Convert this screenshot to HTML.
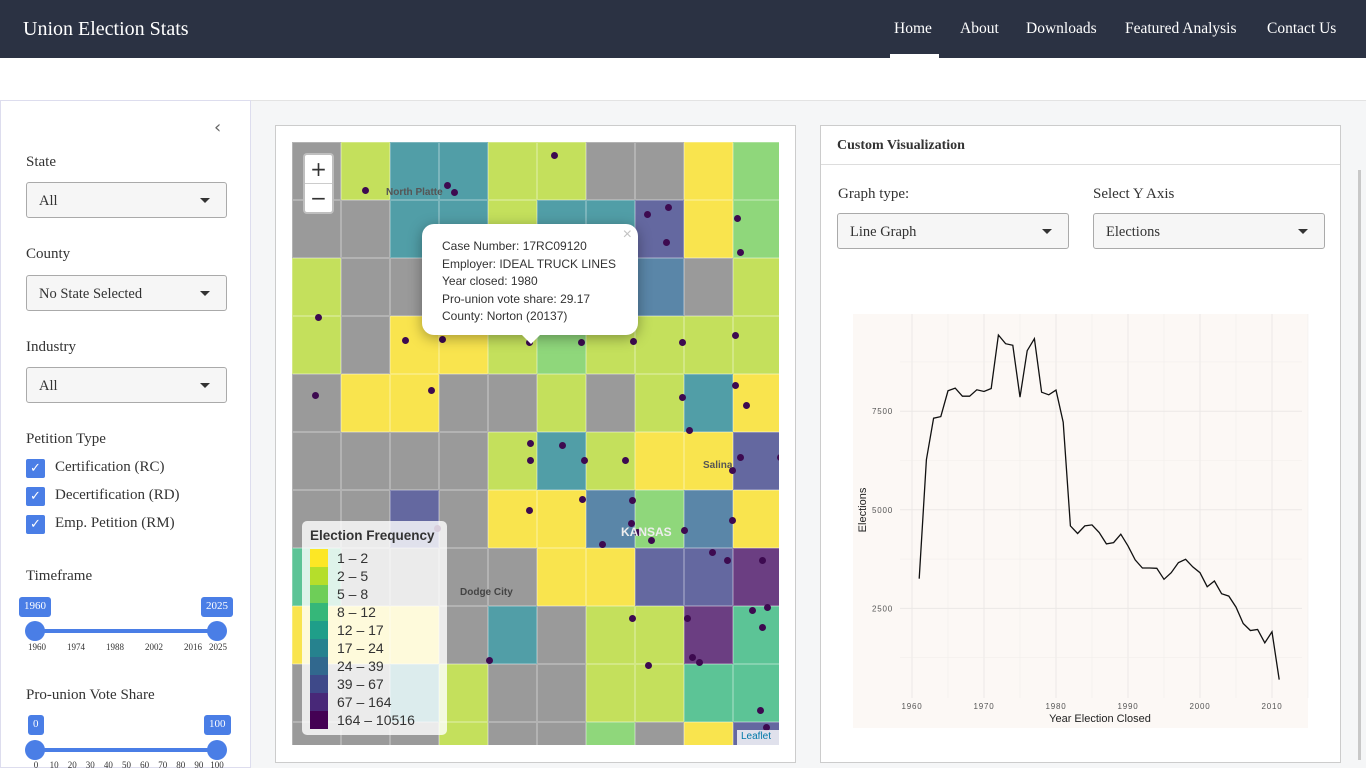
<!DOCTYPE html>
<html><head><meta charset="utf-8">
<style>
*{box-sizing:border-box;margin:0;padding:0}
body{width:1366px;height:768px;overflow:hidden;background:#fff;font-family:"Liberation Serif",serif;color:#333;position:relative}
.nav{position:absolute;left:0;top:0;width:1366px;height:58px;background:#2b3243}
.brand{position:absolute;left:23px;top:18px;color:#fff;font-size:20px}
.nl{position:absolute;top:20px;color:#fff;font-size:15.5px}
.side{position:absolute;left:0;top:100px;width:251px;height:668px;border:1px solid #dde;background:#fff}
.main{position:absolute;left:251px;top:100px;width:1115px;height:668px;background:#f5f6f7;border-top:1px solid #e3e3e3}
.lbl{position:absolute;left:25px;font-size:15px;color:#333}
.sel{position:absolute;left:25px;width:201px;height:36px;border:1px solid #aaa;border-radius:3px;background:#f6f6f6;font-size:14.5px;padding:10px 12px}
.car{position:absolute;right:16px;top:15px;width:0;height:0;border-left:5px solid transparent;border-right:5px solid transparent;border-top:5px solid #333}
.cb{position:absolute;left:25px;width:19px;height:19px;background:#4a7ee6;border-radius:2px;color:#fff;font-size:13px;text-align:center;line-height:19px;font-family:"DejaVu Sans",sans-serif}
.cbl{position:absolute;left:54px;font-size:15px}
.badge{position:absolute;height:20px;background:#4a7ee6;color:#fff;font-size:11px;border-radius:3px;padding:3px 5px}
.track{position:absolute;left:34px;width:182px;height:4px;background:#4a7ee6}
.knob{position:absolute;width:20px;height:20px;border-radius:50%;background:#4a7ee6}
.tick{position:absolute;font-size:9px;color:#333;transform:translateX(-50%)}
.panel{position:absolute;background:#fff;border:1px solid #ccc}
.map{position:absolute;left:292px;top:142px;width:487px;height:603px;overflow:hidden;background:#9a9a9a;font-family:"Liberation Sans",sans-serif}
.cell{position:absolute;border:1px solid rgba(255,255,255,0.25)}
.dot{position:absolute;width:7px;height:7px;border-radius:50%;background:#3d0a50}
</style></head><body>
<div class="nav">
<div class="brand">Union Election Stats</div>
<div class="nl" style="left:894px">Home</div>
<div style="position:absolute;left:890px;top:54px;width:49px;height:4px;background:#fff"></div>
<div class="nl" style="left:960px">About</div>
<div class="nl" style="left:1026px">Downloads</div>
<div class="nl" style="left:1125px">Featured Analysis</div>
<div class="nl" style="left:1267px">Contact Us</div>
</div>

<div class="side">
<div style="position:absolute;left:213px;top:16px;font-size:18px;color:#666;font-family:'DejaVu Sans',sans-serif">‹</div>
<div class="lbl" style="top:53px">State</div>
<div class="sel" style="top:81px">All<div class="car"></div></div>
<div class="lbl" style="top:145px">County</div>
<div class="sel" style="top:174px">No State Selected<div class="car"></div></div>
<div class="lbl" style="top:238px">Industry</div>
<div class="sel" style="top:266px">All<div class="car"></div></div>
<div class="lbl" style="top:330px">Petition Type</div>
<div class="cb" style="top:358px">✓</div><div class="cbl" style="top:358px">Certification (RC)</div>
<div class="cb" style="top:386px">✓</div><div class="cbl" style="top:386px">Decertification (RD)</div>
<div class="cb" style="top:414px">✓</div><div class="cbl" style="top:414px">Emp. Petition (RM)</div>
<div class="lbl" style="top:467px">Timeframe</div>
<div class="badge" style="left:18px;top:496px">1960</div>
<div class="badge" style="left:200px;top:496px">2025</div>
<div class="track" style="top:528px"></div>
<div class="knob" style="left:24px;top:520px"></div>
<div class="knob" style="left:206px;top:520px"></div>
<div class="tick" style="left:36px;top:541px">1960</div><div class="tick" style="left:75px;top:541px">1974</div><div class="tick" style="left:114px;top:541px">1988</div><div class="tick" style="left:153px;top:541px">2002</div><div class="tick" style="left:192px;top:541px">2016</div><div class="tick" style="left:217px;top:541px">2025</div>
<div class="lbl" style="top:586px">Pro-union Vote Share</div>
<div class="badge" style="left:27px;top:614px">0</div>
<div class="badge" style="left:203px;top:614px">100</div>
<div class="track" style="top:647px"></div>
<div class="knob" style="left:24px;top:639px"></div>
<div class="knob" style="left:206px;top:639px"></div>
<div id="vsticks"></div>
</div>
<script>
const vsTicks = [0,10,20,30,40,50,60,70,80,90,100];
const vs = document.getElementById('vsticks');
vsTicks.forEach(t => {
  const d = document.createElement('div');
  d.className = 'tick';
  d.style.left = (35 + t * 1.81) + 'px';
  d.style.top = '659px';
  d.textContent = t;
  
  
  vs.appendChild(d);
});
</script>

<div class="main"></div>
<div class="panel" style="left:275px;top:125px;width:521px;height:638px"></div>
<div class="map" id="map"></div>

<div class="panel" style="left:820px;top:125px;width:521px;height:638px">
<div style="position:absolute;left:0;top:0;width:519px;height:39px;border-bottom:1px solid #ddd;padding:12px 16px;font-weight:bold;font-size:14px">Custom Visualization</div>
<div style="position:absolute;left:17px;top:60px;font-size:15px">Graph type:</div>
<div class="sel" style="left:16px;top:87px;width:232px">Line Graph<div class="car"></div></div>
<div style="position:absolute;left:272px;top:60px;font-size:15px">Select Y Axis</div>
<div class="sel" style="left:272px;top:87px;width:232px">Elections<div class="car"></div></div>
</div>
<div style="position:absolute;left:1358px;top:170px;width:3px;height:590px;background:#c8c8c8"></div>

<svg id="chart" style="position:absolute;left:0;top:0" width="1366" height="768"></svg>

<script>
const years = [];
for (let y = 1961; y <= 2011; y++) years.push(y);
const elections = [3254,6271,7322,7364,8017,8085,7881,7881,8042,8000,8076,9432,9212,9170,7856,9034,9339,7983,7915,8034,7220,4593,4398,4593,4618,4424,4135,4169,4381,4085,3729,3525,3525,3517,3237,3406,3661,3746,3551,3406,3051,3195,2873,2813,2534,2118,1940,1966,1627,1907,695];
const xTicks = [1960,1970,1980,1990,2000,2010];
const yTicks = [2500,5000,7500];
const yMinor = [1250,3750,6250,8750];

const NS = "http://www.w3.org/2000/svg";
const svg = document.getElementById('chart');
const X = v => 912 + (v - 1960) * 7.2;
const Y = v => 707 - v * 0.03944;
function mk(t, a) { const e = document.createElementNS(NS, t); for (const k in a) e.setAttribute(k, a[k]); svg.appendChild(e); return e; }
const bg = mk('rect', {x:853, y:314, width:455, height:414, fill:'#fcf8f5'});


for (const t of xTicks) {
  const l = mk('line', {x1:X(t), x2:X(t), y1:314, y2:698, stroke:'#ebe8e6', 'stroke-width':1});
  
  
  const m = mk('line', {x1:X(t+5), x2:X(t+5), y1:314, y2:698, stroke:'#f1eeec', 'stroke-width':0.6});
  
  
  const tx = mk('text', {x:X(t), y:709, 'font-size':8, fill:'#555', 'text-anchor':'middle', 'font-family':'Liberation Sans, sans-serif', 'letter-spacing':'0.8'});
  tx.textContent = t;
  
  
}
for (const t of yTicks) {
  const l = mk('line', {x1:900, x2:1302, y1:Y(t), y2:Y(t), stroke:'#ebe8e6', 'stroke-width':1});
  
  
  const tx = mk('text', {x:893, y:Y(t)+3, 'font-size':8, fill:'#555', 'text-anchor':'end', 'font-family':'Liberation Sans, sans-serif', 'letter-spacing':'0.8'});
  tx.textContent = t;
  
  
}
for (const t of yMinor) {
  const l = mk('line', {x1:900, x2:1302, y1:Y(t), y2:Y(t), stroke:'#f1eeec', 'stroke-width':0.6});
  
  
}
const pts = years.map((yr, i) => X(yr).toFixed(1) + ',' + Y(elections[i]).toFixed(1)).join(' ');
const line = mk('polyline', {points:pts, fill:'none', stroke:'#111', 'stroke-width':1.3});


const xt = mk('text', {x:1100, y:722, 'font-size':11, fill:'#222', 'text-anchor':'middle', 'font-family':'Liberation Sans, sans-serif'});
xt.textContent = 'Year Election Closed';


const yt = mk('text', {x:0, y:0, 'font-size':11, fill:'#222', 'text-anchor':'middle', 'font-family':'Liberation Sans, sans-serif', transform:'translate(866,510) rotate(-90)'});
yt.textContent = 'Elections';



// Map (decorative county choropleth)
const pal = {G:'#9a9a9a', Y:'#f9e44e', L:'#c4e05c', N:'#8fd77b', T:'#5cc496', Q:'#519ea7', B:'#5a86a8', I:'#6468a0', P:'#6b3e82'};
const rows = ["GLQQLLGGYN","GGQQLQQIYN","LGGLLLQBGL","LGYYLNLLLL","GYYGGLGLQY","GGGGLQLYYI","GGIGYYBNBY","TGGGGYYIIP","YYYGQGLLPT","GGQLGGLLTT","GGGLGGNGYI"];
const map = document.getElementById('map');
rows.forEach((r, ri) => { [...r].forEach((c, ci) => {
  const d = document.createElement('div');
  d.className = 'cell';
  d.style.cssText = `left:${ci*49}px;top:${ri*58}px;width:49px;height:58px;background:${pal[c]}`;
  
  
  map.appendChild(d);
});});
const dots = [[262,13],[73,48],[162,50],[155,43],[355,72],[376,65],[374,100],[445,76],[448,110],[26,175],[113,198],[150,197],[237,200],[289,200],[341,199],[390,200],[443,193],[443,243],[454,263],[23,253],[139,248],[390,255],[397,288],[238,301],[238,318],[270,303],[292,318],[333,318],[448,315],[488,315],[440,328],[237,368],[290,357],[340,358],[345,390],[392,388],[440,378],[145,386],[339,381],[359,398],[310,402],[420,410],[470,418],[435,418],[460,468],[475,465],[470,485],[395,476],[340,476],[400,515],[197,518],[356,523],[407,520],[468,568],[474,585]];
dots.forEach(([x, y]) => {
  const d = document.createElement('div');
  d.className = 'dot';
  d.style.left = (x-3) + 'px'; d.style.top = (y-3) + 'px';
  
  
  map.appendChild(d);
});
</script>

<div style="position:absolute;left:303px;top:153px;width:31px;height:61px;background:#fff;border:2px solid rgba(0,0,0,0.25);border-radius:4px;font-family:'DejaVu Sans',sans-serif">
<div style="height:29px;text-align:center;font-size:20px;line-height:28px;border-bottom:1px solid #ccc">+</div>
<div style="text-align:center;font-size:20px;line-height:28px">−</div>
</div>
<div style="position:absolute;left:386px;top:187px;font-size:10px;font-weight:bold;color:#555;font-family:'Liberation Sans',sans-serif">North Platte</div>
<div style="position:absolute;left:703px;top:460px;font-size:10px;font-weight:bold;color:#555;font-family:'Liberation Sans',sans-serif">Salina</div>
<div style="position:absolute;left:621px;top:525px;font-size:12px;font-weight:bold;color:#eee;font-family:'Liberation Sans',sans-serif">KANSAS</div>
<div style="position:absolute;left:460px;top:587px;font-size:10px;font-weight:bold;color:#444;font-family:'Liberation Sans',sans-serif">Dodge City</div>

<div style="position:absolute;left:422px;top:224px;width:216px;height:111px;background:#fff;border-radius:12px;box-shadow:0 3px 14px rgba(0,0,0,0.35);font-family:'Liberation Sans',sans-serif;font-size:12px;color:#333;padding:14px 20px;line-height:17.5px">
Case Number: 17RC09120<br>Employer: IDEAL TRUCK LINES<br>Year closed: 1980<br>Pro-union vote share: 29.17<br>County: Norton (20137)
<div style="position:absolute;right:6px;top:2px;font-size:16px;color:#c3c3c3">×</div>
<div style="position:absolute;left:100px;bottom:-9px;width:0;height:0;border-left:9px solid transparent;border-right:9px solid transparent;border-top:9px solid #fff"></div>
</div>

<div style="position:absolute;left:302px;top:521px;width:145px;height:214px;background:rgba(255,255,255,0.8);border-radius:5px;font-family:'Liberation Sans',sans-serif;padding:7px 8px">
<div style="font-weight:bold;font-size:13.5px;color:#333;white-space:nowrap;height:21px">Election Frequency</div>
<div id="leg"></div>
</div>
<script>
const legLabels = ["1 – 2","2 – 5","5 – 8","8 – 12","12 – 17","17 – 24","24 – 39","39 – 67","67 – 164","164 – 10516"];
const legColors = ["#fde725","#b5de2b","#6ece58","#35b779","#1f9e89","#26828e","#31688e","#3e4989","#482878","#440154"];
const leg = document.getElementById('leg');
legLabels.forEach((t, i) => {
  const r = document.createElement('div');
  r.style.cssText = 'position:relative;height:18px;font-size:14px;color:#333';
  r.innerHTML = `<span style="position:absolute;left:0;top:0;width:18px;height:18px;background:${legColors[i]}"></span><span style="position:absolute;left:27px;top:1px">${t}</span>`;
  
  
  leg.appendChild(r);
});
</script>
<div style="position:absolute;left:737px;top:730px;width:42px;height:15px;background:rgba(255,255,255,0.8);font-size:10px;color:#0078a8;font-family:'Liberation Sans',sans-serif;padding:1px 4px">Leaflet</div>
</body></html>
